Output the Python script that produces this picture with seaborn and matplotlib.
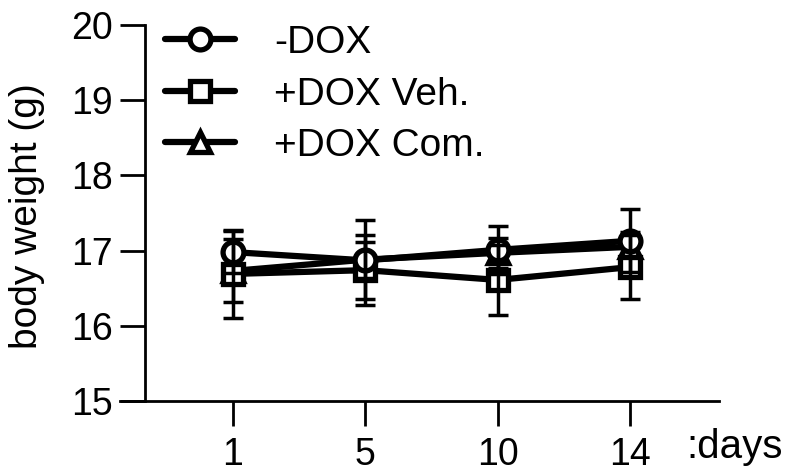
import numpy as np
import pandas as pd
import matplotlib
matplotlib.use("Agg")
import matplotlib.pyplot as plt
from matplotlib.lines import Line2D
import seaborn as sns

# data (mean and SD, body weight in g)
days = ["1", "5", "10", "14"]
groups = ["-DOX", "+DOX Veh.", "+DOX Com."]
dox_minus = [16.98, 16.87, 17.01, 17.13]
dox_minus_sd = [0.28, 0.24, 0.32, 0.42]
dox_veh = [16.69, 16.74, 16.61, 16.78]
dox_veh_sd = [0.59, 0.47, 0.47, 0.43]
dox_com = [16.73, 16.88, 16.97, 17.05]
dox_com_sd = [0.42, 0.53, 0.20, 0.20]

markers = {"-DOX": "o", "+DOX Veh.": "s", "+DOX Com.": "^"}

means = {"-DOX": dox_minus, "+DOX Veh.": dox_veh, "+DOX Com.": dox_com}
sds = {"-DOX": dox_minus_sd, "+DOX Veh.": dox_veh_sd, "+DOX Com.": dox_com_sd}

rows = []
for g in groups:
    for i, d in enumerate(days):
        rows.append({"pos": i, "day": d, "group": g, "weight": means[g][i], "sd": sds[g][i]})
df = pd.DataFrame(rows)

sns.set_theme(style="ticks")
plt.rcParams["font.family"] = ["Liberation Sans", "DejaVu Sans"]
plt.rcParams["text.color"] = "black"

fig = plt.figure(figsize=(7.93, 4.72), dpi=100)
ax = fig.add_axes([120 / 793, 71 / 472, 599 / 793, 376 / 472])

# draw order: Com. at the bottom, -DOX on top
draw_order = ["+DOX Com.", "+DOX Veh.", "-DOX"]

for z, g in enumerate(draw_order):
    sub = df[df["group"] == g]
    ax.errorbar(sub["pos"], sub["weight"], yerr=sub["sd"], fmt="none",
                ecolor="black", elinewidth=2.5, capsize=7, capthick=2.5,
                zorder=2 + z * 2)

sns.lineplot(data=df, x="pos", y="weight", hue="group", style="group",
             hue_order=draw_order, style_order=draw_order,
             markers=markers, dashes=False, palette=["black"] * 3,
             linewidth=4.5, markersize=15, markeredgewidth=3.8,
             markeredgecolor="black", markerfacecolor="white",
             legend=False, ax=ax, zorder=3)

ax.set_xlim(-0.854, 3.673)
ax.set_ylim(15, 20)
ax.set_xticks(range(len(days)))
ax.set_xticklabels(days)
ax.set_yticks([15, 16, 17, 18, 19, 20])

ax.spines["top"].set_visible(False)
ax.spines["right"].set_visible(False)
ax.spines["left"].set_position(("data", -0.665))
for s in ["left", "bottom"]:
    ax.spines[s].set_linewidth(2)
    ax.spines[s].set_color("black")

ax.tick_params(axis="both", direction="out", length=18, width=2, colors="black",
               labelsize=27)
ax.tick_params(axis="x", pad=8)
ax.tick_params(axis="y", pad=5)

ax.set_xlabel("")
ax.set_ylabel("body weight (g)", fontsize=28, color="black")
ax.yaxis.set_label_coords(-0.126, 0.493)

fig.text(686 / 793, 14 / 472, ":days", fontsize=29, ha="left", va="baseline")

handles = [Line2D([0], [0], color="black", lw=4.5, marker=markers[g], markersize=15,
                  markeredgewidth=3.8, markeredgecolor="black", markerfacecolor="white")
           for g in groups]
ax.legend(handles, groups, loc="upper left", bbox_to_anchor=(165 / 793, 1 - 25 / 472),
          bbox_transform=fig.transFigure, frameon=False, fontsize=28,
          handlelength=1.8, handletextpad=1.0, labelspacing=0.4, borderpad=0,
          borderaxespad=0)

fig.savefig("out.png", dpi=100, facecolor="white")
